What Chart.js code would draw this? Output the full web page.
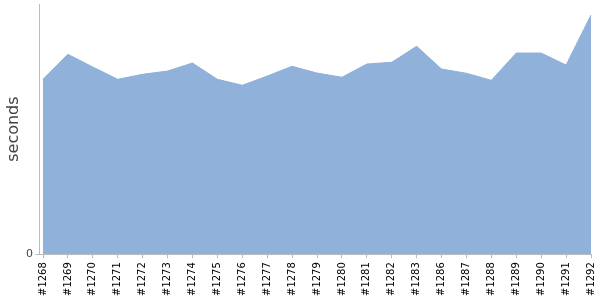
<!DOCTYPE html>
<html>
<head>
<meta charset="utf-8">
<script src="https://cdn.jsdelivr.net/npm/chart.js@4"></script>
<style>
  html, body { margin: 0; padding: 0; background: #fff; }
  #wrap { width: 600px; height: 300px; }
</style>
</head>
<body>
<div id="wrap"><canvas id="buildChart"></canvas></div>
<script>
var buildLabels = ["#1268", "#1269", "#1270", "#1271", "#1272", "#1273", "#1274", "#1275",
    "#1276", "#1277", "#1278", "#1279", "#1280", "#1281", "#1282", "#1283",
    "#1286", "#1287", "#1288", "#1289", "#1290", "#1291", "#1292"];
var durationData = [69.9, 79.9, 74.8, 69.9, 71.9, 73.2, 76.4, 69.9,
    67.5, 71.2, 75.1, 72.4, 70.7, 76.0, 76.7, 83.1,
    74.0, 72.3, 69.5, 80.4, 80.4, 75.6, 95.6];
var yMax = 100;

var axisGray = '#bbb';

// y axis line sits a few px left of the plot, like the original
var leftAxisLine = {
    id: 'leftAxisLine',
    afterDraw: function (chart) {
        var a = chart.chartArea, c = chart.ctx;
        var x = Math.round(a.left) - 3.5;
        c.save();
        c.strokeStyle = axisGray;
        c.lineWidth = 1;
        c.beginPath();
        c.moveTo(x, a.top);
        c.lineTo(x, a.bottom + 0.5);
        c.moveTo(x - 4, Math.round(a.bottom) + 0.5);
        c.lineTo(a.left, Math.round(a.bottom) + 0.5);
        c.stroke();
        c.restore();
    }
};

var ctx = document.getElementById('buildChart').getContext('2d');
var buildChart = new Chart(ctx, {
    type: 'line',
    data: {
        labels: buildLabels,
        datasets: [{
            label: 'seconds',
            data: durationData,
            backgroundColor: '#8fb1da',
            borderColor: '#8fb1da',
            borderWidth: 1,
            pointRadius: 0,
            fill: true,
            tension: 0
        }]
    },
    plugins: [leftAxisLine],
    options: {
        responsive: true,
        maintainAspectRatio: false,
        animation: false,
        layout: { padding: { top: 4, right: 9, left: 0, bottom: 0 } },
        plugins: {
            legend: { display: false },
            tooltip: { enabled: false }
        },
        scales: {
            x: {
                offset: false,
                afterFit: function (axis) {
                    // labels are vertical, no extra side room needed
                    axis.paddingLeft = 0;
                    axis.paddingRight = 0;
                },
                grid: { display: true, drawOnChartArea: false, tickLength: 4, color: axisGray },
                border: { color: axisGray },
                ticks: {
                    autoSkip: false,
                    maxRotation: 90,
                    minRotation: 90,
                    color: '#000',
                    font: { family: 'DejaVu Sans', size: 10 },
                    padding: 4
                }
            },
            y: {
                min: 0,
                max: yMax,
                afterBuildTicks: function (axis) {
                    // only the zero tick is shown
                    axis.ticks = [{ value: 0 }];
                },
                afterFit: function (axis) {
                    axis.width = 43;
                    axis.paddingTop = 0;
                    axis.paddingBottom = 0;
                },
                grid: { display: false },
                border: { display: false },
                ticks: {
                    color: '#444',
                    padding: 2,
                    font: { family: 'DejaVu Sans', size: 11 }
                },
                title: {
                    display: true,
                    text: 'seconds',
                    color: '#444',
                    font: { family: 'DejaVu Sans', size: 16 }
                }
            }
        }
    }
});
</script>
</body>
</html>
